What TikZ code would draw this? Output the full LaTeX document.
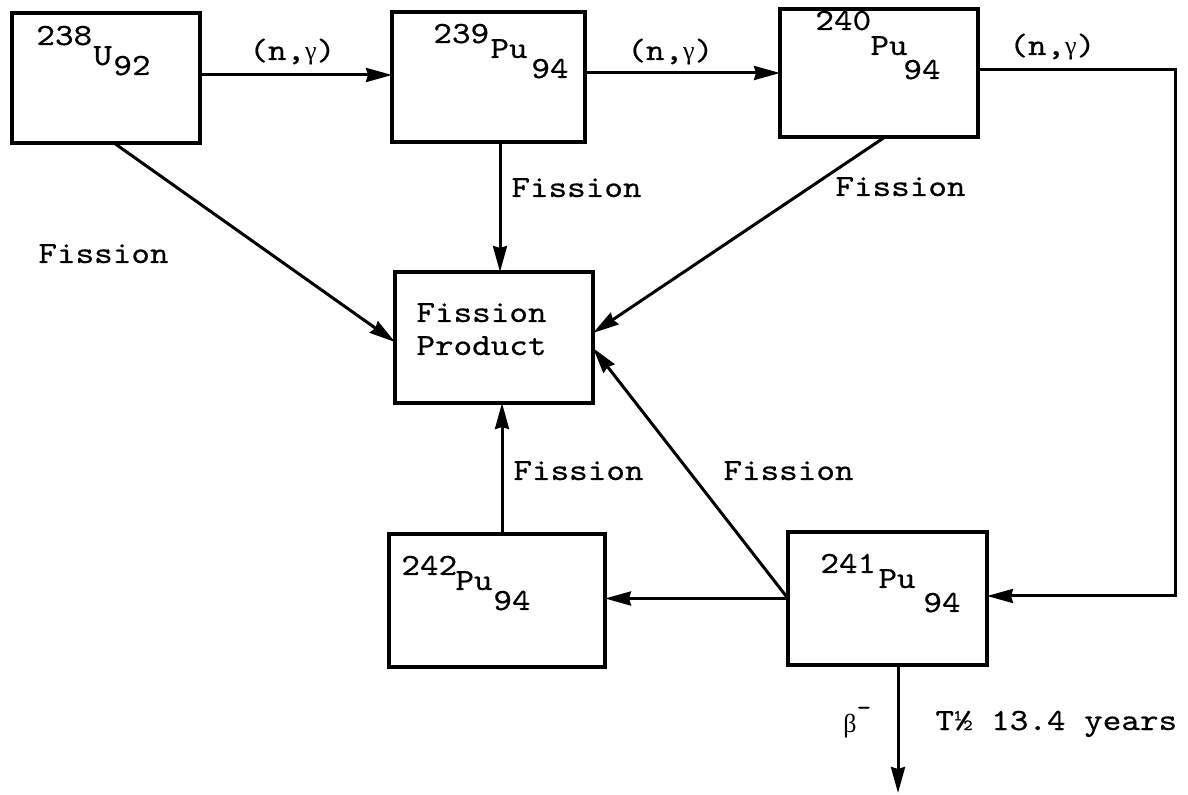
\documentclass[tikz,border=0pt]{standalone}
\usepackage{fontspec}
\newfontfamily\twfont{lmmono10-regular.otf}[FakeBold=0.5,FakeStretch=1.15]
\newfontfamily\grk{Liberation Serif}
\usetikzlibrary{arrows.meta}
\begin{document}
\begin{tikzpicture}[x=0.5pt,y=-0.5pt,
  box/.style={draw,line width=1.8pt,rectangle,inner sep=0pt,outer sep=0pt},
  txt/.style={anchor=base west,inner sep=0pt,font=\fontsize{15.4}{18}\twfont},
  arr/.style={line width=1.5pt,-{Stealth[length=13pt,width=7pt,inset=1pt]}},
  ln/.style={line width=1.5pt}]
\useasboundingbox (0,0) rectangle (1188,795);
% boxes
\node[box,minimum width=94pt,minimum height=65pt] (u238) at (106,78) {};
\node[box,minimum width=96.5pt,minimum height=65pt] (pu239) at (488.5,77) {};
\node[box,minimum width=99pt,minimum height=64pt] (pu240) at (879,73) {};
\node[box,minimum width=99pt,minimum height=65.5pt] (fp) at (494,337.5) {};
\node[box,minimum width=108pt,minimum height=66.5pt] (pu242) at (497,600.5) {};
\node[box,minimum width=99.5pt,minimum height=66.5pt] (pu241) at (887.5,598.5) {};
% box texts
\node[txt] (u238a) at (36,45) {238};
\node[txt] (u238b) at (93,65) {U};
\node[txt] (u238c) at (113,75) {92};
\node[txt] (pu239a) at (433,43) {239};
\node[txt] (pu239b) at (490,58) {Pu};
\node[txt] (pu239c) at (531,78) {94};
\node[txt] (pu240a) at (815,30) {240};
\node[txt] (pu240b) at (870,55) {Pu};
\node[txt] (pu240c) at (903,79) {94};
\node[txt] (pu242a) at (401,575) {242};
\node[txt] (pu242b) at (455,590) {Pu};
\node[txt] (pu242c) at (493,610) {94};
\node[txt] (pu241a) at (820,573) {241};
\node[txt] (pu241b) at (878,588) {Pu};
\node[txt] (pu241c) at (923,612) {94};
\node[txt] (fpa) at (416,322) {Fission};
\node[txt] (fpb) at (416,355) {Product};
% labels
\node[txt] (ng1) at (249,60) {(n,{\grk\fontsize{13}{15}\selectfont γ})};
\node[txt] (ng2) at (627,60) {(n,{\grk\fontsize{13}{15}\selectfont γ})};
\node[txt] (ng3) at (1009,55) {(n,{\grk\fontsize{13}{15}\selectfont γ})};
\node[txt] (f1) at (511,197) {Fission};
\node[txt] (f2) at (835,196) {Fission};
\node[txt] (f3) at (38,263) {Fission};
\node[txt] (f4) at (513,480) {Fission};
\node[txt] (f5) at (723,480) {Fission};
\node[txt] (beta) at (843,733) {{\grk\fontsize{13}{15}\selectfont β}\raisebox{9pt}{\fontsize{12}{14}\selectfont -}};
\node[txt] (thalf) at (935,730) {T½ 13.4 years};
% coordinates
\coordinate (c1) at (1175,70);
\coordinate (c2) at (1175,596);
\coordinate (dn) at (898,793);
% connectors
\draw[arr] ([yshift=1.5pt]u238.east) -- ([yshift=1.5pt]u238.east -| pu239.west);
\draw[arr] (pu239.east |- pu240.west) -- (pu240.west);
\draw[arr] (pu240.east |- c1) -- (c1) -- (c2) -- (c2 -| pu241.east);
\draw[arr] (pu241.west) -- (pu241.west -| pu242.east);
\draw[arr] (pu241.west) -- ([yshift=-5.25pt]fp.east);
\draw[arr] ([xshift=3pt]pu240.south) -- ([yshift=2.25pt]fp.east);
\draw[arr] ([xshift=4pt]u238.south) -- ([yshift=-2.25pt]fp.west);
\draw[arr] ([xshift=5.75pt]pu239.south) -- ([xshift=5.75pt]pu239.south |- fp.north);
\draw[arr] ([xshift=2.5pt]pu242.north) -- ([xshift=2.5pt]pu242.north |- fp.south);
\draw[arr] ([xshift=5.25pt]pu241.south) -- (dn);
\end{tikzpicture}
\end{document}
